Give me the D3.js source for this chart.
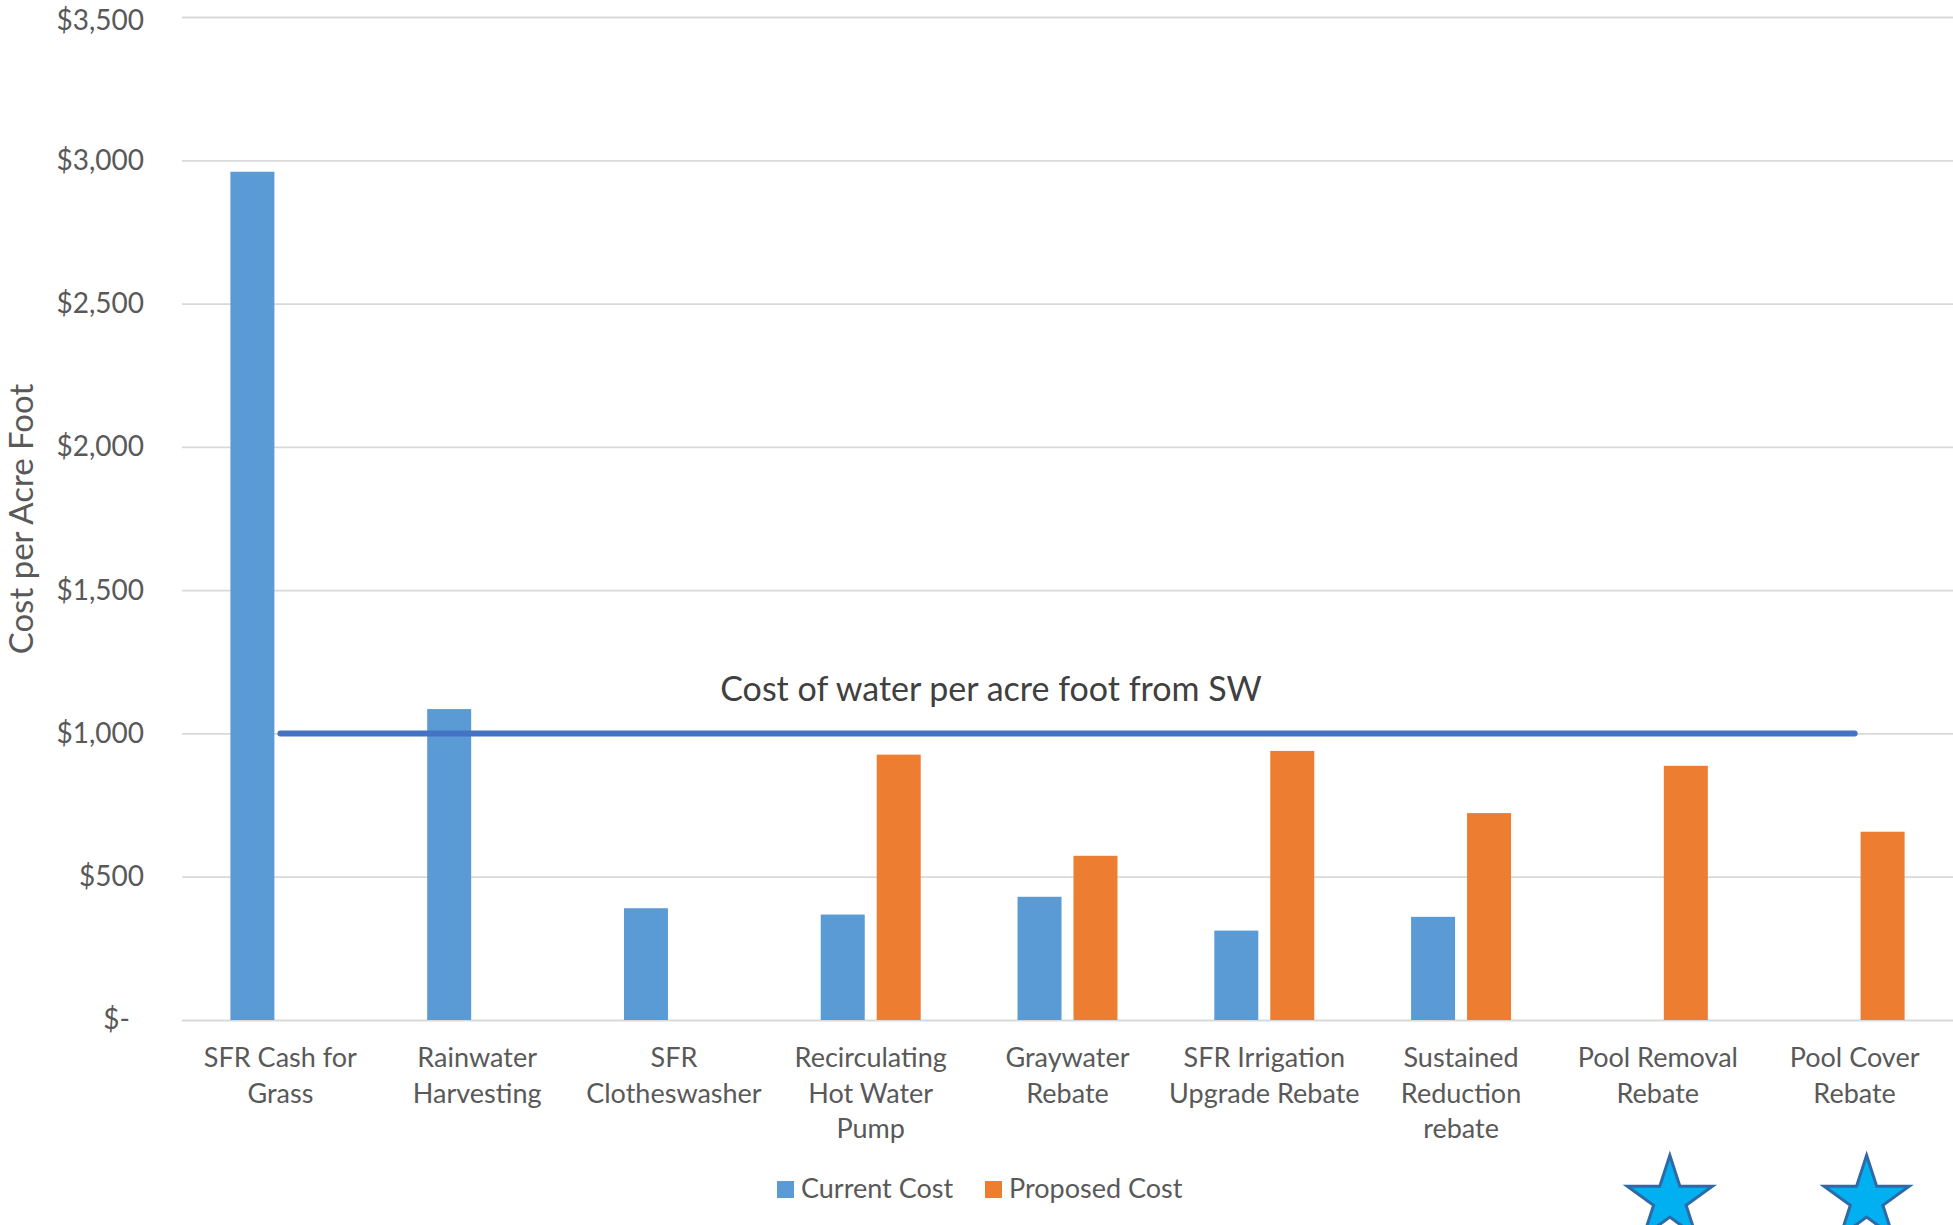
<!DOCTYPE html>
<html>
<head>
<meta charset="utf-8">
<script src="https://cdn.jsdelivr.net/npm/d3@7"></script>
<style>
  body { margin: 0; background: #fff; }
  svg { display: block; font-family: Lato, "Noto Sans", sans-serif; }
</style>
</head>
<body>
<div id="vis"></div>
<script>
const categories = [
  "SFR Cash for\nGrass",
  "Rainwater\nHarvesting",
  "SFR\nClotheswasher",
  "Recirculating\nHot Water\nPump",
  "Graywater\nRebate",
  "SFR Irrigation\nUpgrade Rebate",
  "Sustained\nReduction\nrebate",
  "Pool Removal\nRebate",
  "Pool Cover\nRebate"
];
const seriesNames = ["Current Cost", "Proposed Cost"];
const currentCost = [2960, 1085, 390, 368, 430, 312, 360, null, null];
const proposedCost = [null, null, null, 926, 573, 939, 722, 887, 657];
const swCost = [1000, 1000, 1000, 1000, 1000, 1000, 1000, 1000, 1000];
const yTicks = [0, 500, 1000, 1500, 2000, 2500, 3000, 3500];
const starredCats = [categories[7], categories[8]];
const lineLabel = "Cost of water per acre foot from SW";
const yTitle = "Cost per Acre Foot";

const WIDTH = 1953;
const HEIGHT = 1225;
const MARGINS = { left: 182, right: 0, top: 17, bottom: 205 };
const COLORS = ["#5B9BD5", "#ED7D31"];
const FONT = "Lato, 'Noto Sans', sans-serif";

const svg = d3.select("#vis")
  .append("svg")
  .attr("width", WIDTH)
  .attr("height", HEIGHT);

const X0 = d3.scaleBand()
  .domain(categories)
  .range([MARGINS.left, WIDTH - MARGINS.right])
  .paddingInner(0.492)
  .paddingOuter(0.246);

const X1 = d3.scaleBand()
  .domain(seriesNames)
  .range([0, X0.bandwidth()])
  .paddingInner(0.214);

const Y = d3.scaleLinear()
  .domain([0, 3500])
  .range([HEIGHT - MARGINS.bottom, MARGINS.top]);

// gridlines + tick labels
const yAxis = svg.append("g")
  .attr("transform", "translate(" + MARGINS.left + ",0)")
  .call(d3.axisLeft(Y)
    .tickValues(yTicks)
    .tickSize(-(WIDTH - MARGINS.left - MARGINS.right))
    .tickPadding(38)
    .tickFormat(d => d === 0 ? "$-" : "$" + d3.format(",")(d)))
  .attr("font-family", FONT);
yAxis.select(".domain").remove();
yAxis.selectAll(".tick line").attr("stroke", "#D9D9D9").attr("stroke-width", 1.8);
yAxis.selectAll(".tick text")
  .attr("fill", "#595959")
  .attr("font-size", 28)
  .attr("dx", d => d === 0 ? -14 : 0)
  .attr("dy", d => d === 3500 ? "0.45em" : "0.32em");

// y title
svg.append("text")
  .attr("transform", "translate(33," + 519 + ") rotate(-90)")
  .attr("text-anchor", "middle")
  .attr("fill", "#595959")
  .attr("font-size", 33)
  .text(yTitle);

// bars
const series = [currentCost, proposedCost];
series.forEach((vals, si) => {
  svg.append("g").selectAll("rect")
    .data(categories.map((c, i) => ({ cat: c, v: vals[i] })).filter(d => d.v !== null))
    .enter()
    .append("rect")
    .attr("x", d => X0(d.cat) + X1(seriesNames[si]))
    .attr("y", d => Y(d.v))
    .attr("width", X1.bandwidth())
    .attr("height", d => Y(0) - Y(d.v))
    .attr("fill", COLORS[si]);
});

// category labels
const xAxis = svg.append("g")
  .attr("transform", "translate(0," + Y(0) + ")")
  .call(d3.axisBottom(X0).tickSize(0).tickFormat(""))
  .attr("font-family", FONT);
xAxis.select(".domain").remove();
xAxis.selectAll(".tick").each(function (d) {
  const t = d3.select(this).append("text")
    .attr("text-anchor", "middle")
    .attr("fill", "#595959")
    .attr("font-size", 27)
    .attr("y", 47);
  d.split("\n").forEach((line, i) => {
    t.append("tspan").attr("x", 0).attr("dy", i === 0 ? 0 : 35.5).text(line);
  });
});

// SW cost line
const line = d3.line()
  .x((d, i) => X0(categories[i]) + X0.bandwidth() / 2)
  .y(d => Y(d));
svg.append("path")
  .datum(swCost)
  .attr("d", line)
  .attr("fill", "none")
  .attr("stroke", "#4472C4")
  .attr("stroke-width", 6)
  .attr("stroke-linecap", "round");

svg.append("text")
  .attr("x", 991)
  .attr("y", Y(1000) - 32)
  .attr("text-anchor", "middle")
  .attr("fill", "#404040")
  .attr("font-size", 34)
  .text(lineLabel);

// legend
const legend = svg.append("g").attr("transform", "translate(777,1189)");
const legX = [0, 208];
seriesNames.forEach((s, i) => {
  const g = legend.append("g").attr("transform", "translate(" + legX[i] + ",0)");
  g.append("rect").attr("x", 0).attr("y", -8).attr("width", 17).attr("height", 17).attr("fill", COLORS[i]);
  g.append("text").attr("x", 24).attr("y", 9).attr("fill", "#595959").attr("font-size", 27).text(s);
});

// stars
const star = d3.symbol().type(d3.symbolStar).size(2250);
svg.append("g").selectAll("path")
  .data(starredCats)
  .enter()
  .append("path")
  .attr("d", star)
  .attr("transform", d => "translate(" + (X0(d) + X0.bandwidth() / 2 + 12) + ",1200)")
  .attr("fill", "#00B0F0")
  .attr("stroke", "#2E6AA8")
  .attr("stroke-width", 3)
  .attr("stroke-linejoin", "miter");
</script>
</body>
</html>
